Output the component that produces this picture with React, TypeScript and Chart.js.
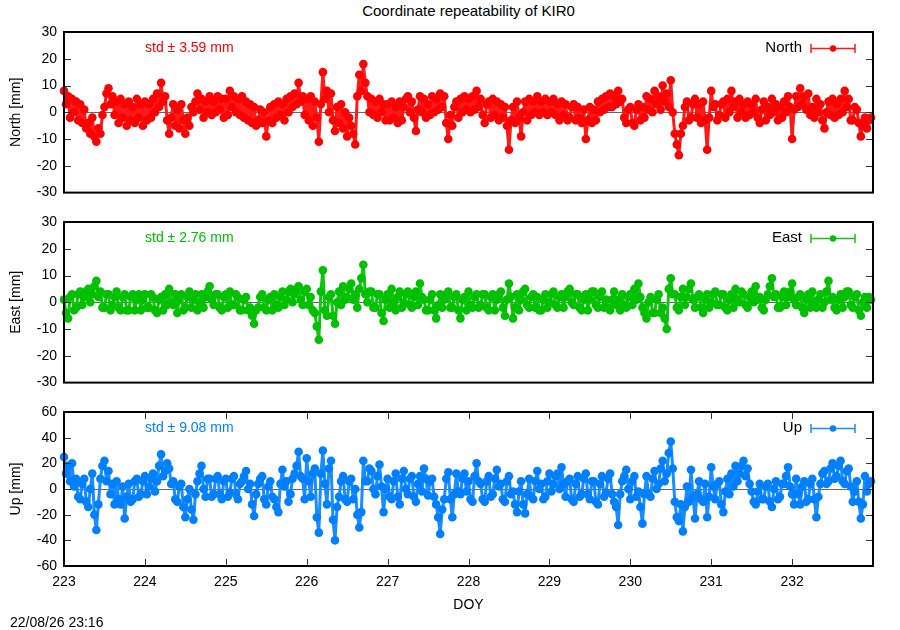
import React, { useEffect, useRef } from "react";
import { Chart, registerables } from "chart.js";

Chart.register(...registerables);

const FONT = '"Liberation Sans", Arial, Helvetica, sans-serif';

// Epochs: DOY 223.000 .. 232.975 every 0.025 day (one row = one day)
const DOY_START = 223;
const DOY_STEP = 0.025;

const X_TICKS = [223, 224, 225, 226, 227, 228, 229, 230, 231, 232];
const NE_TICKS = [-30, -20, -10, 0, 10, 20, 30];
const UP_TICKS = [-60, -40, -20, 0, 20, 40, 60];

const NORTH = [
  8, 3, 6, -2, 5, 0, 4, -3, 3, -4, 1, -6, -4, -8, -2, -9, -11, -6, -8, -1, 2, 7, 9, 3, 6, -1, 4, -4, 5, -2, 3, -5, 4, -3, 2, -4, 5, -2, 3, -5,
  4, -3, 3, -2, 5, 0, 7, 2, 11, 4, 6, -3, -8, -2, 3, -5, 1, -6, 3, -3, -8, -2, -5, 2, 0, 4, 7, 1, 5, -2, 4, 0, 6, -1, 4, 0, 6, 1, 5, -2,
  5, -1, 8, 2, 6, 0, 5, -1, 6, -2, 4, -3, 3, -4, 2, -5, -3, 1, -4, 0, -9, -3, 2, -4, 3, -2, 4, -1, 3, -3, 5, 0, 6, 2, 7, 3, 11, 4, 6, -1,
  5, -3, 6, -5, 4, -2, -11, 3, 15, 5, 8, 0, 7, -3, -7, 2, -4, 3, -6, 0, -9, -2, -5, -8, -12, 6, 14, 8, 18, 11, 6, 0, 5, -1, 4, -2, 5, 0, 3, -3,
  3, -3, 4, -2, 2, -4, 4, -3, 2, 5, 6, 0, 4, -2, -7, 1, 6, 0, 5, -2, 3, -1, 6, 0, 5, 1, 7, 2, 6, -4, -10, -1, -5, 2, 4, -2, 5, 0, 6, 1,
  5, 0, 6, 1, 8, 2, 5, -1, -4, 3, 4, -2, 5, -1, 4, -3, 3, -2, 2, -5, -14, -3, 2, -4, 4, -2, -9, 0, 4, -3, 5, -1, 4, 0, 6, -1, 4, 0, 5, -1,
  4, 0, 5, -1, 3, -3, 4, -1, 3, -3, -2, 2, 3, -3, 2, -2, -4, 1, -10, -3, 2, -4, 1, -3, 4, 0, 5, 1, 6, 2, 7, 2, 6, 3, 8, 4, 5, -2, -4, 1,
  2, -4, -5, 1, 3, -3, 2, -2, 6, 1, 5, 0, 8, 3, 6, 1, 10, 4, 7, 2, 12, 0, -8, -12, -16, -8, -5, 2, 4, -3, -2, 3, 5, -2, 3, -4, 4, -3, -14, -2,
  8, 2, 3, -3, -1, 3, 4, -2, 5, 0, 8, 2, 4, -2, 5, 0, 3, -2, 4, -1, 3, 0, 5, -2, -4, 1, 4, -3, 2, -1, 5, 0, 3, -3, 2, -2, 4, 0, 6, 2,
  -10, 1, 6, 2, 9, 3, 6, 1, 7, -1, 2, -2, 5, 0, 3, -3, -6, 0, 4, -1, 5, -2, 3, -1, 5, 0, 8, 2, 5, -3, -3, 2, 1, -4, -9, -5, -2, -6, -3, -2,
];

const EAST = [
  1, -4, -6, 2, 3, -3, -2, 3, 4, -1, 2, 4, 5, 0, 3, 6, 8, 2, 4, -2, -2, 3, 3, -3, -1, 2, 4, -2, -3, 2, 3, -3, -3, 2, 3, -3, 1, 3, -3, 1,
  3, -2, -2, 3, 2, -3, -4, 1, 2, -3, 3, -1, 5, 0, -1, 3, -4, 1, 3, -3, -2, 2, 4, -2, 1, 3, -3, 0, 3, -2, 2, 4, 6, 1, -1, 3, 3, -2, -3, 2,
  3, -2, 4, -1, -1, 3, 2, -3, -3, 1, 2, -3, -2, -5, -8, -3, -2, 2, 3, -2, -3, 1, 2, -3, 3, -1, -2, 2, 4, -1, 1, 4, 5, 0, 3, 5, 6, 1, -1, 4,
  5, -1, 2, -3, -4, -9, -14, 4, 12, -3, -5, 2, 3, -5, -8, 0, 4, -1, 6, 1, 2, 5, 7, 1, 3, -2, 5, 9, 14, 3, 0, 4, 4, -2, -2, 3, 3, -4, -7, 1,
  3, -2, 5, 0, -3, 2, 4, -2, 0, 3, 4, -1, -2, 2, 4, -1, 7, 2, 1, -3, -3, 1, 3, -3, -6, -1, 3, -2, 1, 3, 4, -2, -2, 2, 3, -3, -6, 1, 2, -3,
  4, -1, -2, 2, 3, -2, -1, 3, 3, -2, -3, 2, 3, -3, 1, 3, 4, -2, -5, 1, 7, 2, -6, -2, 3, -3, 1, 4, 5, -1, -2, 2, 3, -2, 2, -3, -3, 1, 3, -2,
  0, 3, 4, -1, -2, 2, 3, -2, 2, 4, 5, 0, -1, 3, 3, -2, -3, 1, 3, -3, 1, 4, 4, -1, -2, 2, 4, -2, 1, -2, -3, 1, 4, -1, 1, -3, 3, -1, -2, 2,
  3, -1, 5, 1, 7, 2, -2, -4, -6, 0, 2, -4, -4, 1, 3, -4, -2, -6, -10, 5, 9, 3, 3, -2, -3, 2, 5, -1, 2, 5, 7, 1, -2, 2, 3, -2, -4, 1, 3, -2,
  0, 3, 4, -1, -1, 3, 3, -2, -3, 1, 3, -2, 5, 1, 0, 4, 3, -1, -2, 2, 4, 0, 6, 1, 2, -2, -3, 1, 3, 6, 9, 2, 3, -2, -2, 2, 4, -1, 2, 4,
  7, 1, -1, 2, 3, -2, -4, 1, 3, -2, 4, 0, -2, 1, 3, -2, 0, 4, 8, 1, 2, -2, -3, 1, 3, -2, 2, 4, 4, -1, -2, 2, 3, -3, -5, 0, 2, -2, 2, 1,
];

const UP = [
  25, 12, 18, 6, 20, 2, 8, -6, -8, 4, 8, -10, -14, 0, 12, -20, -32, -12, 8, 18, 22, 6, 14, -4, 4, -12, 6, -8, -12, 2, -23, -6, 4, -10, -8, 6, 8, -6, -4, 6,
  10, -4, 2, 8, 12, -2, 6, 18, 27, 10, 14, 20, 16, 4, 6, -8, -10, 2, 4, -14, -22, -8, 0, -16, -24, -4, 6, 12, 18, 0, -6, 8, 8, -6, -4, 8, 10, -4, -8, 6,
  8, -6, -3, 8, 10, -4, -8, 4, 6, 10, 14, 0, 4, -12, -21, -4, 4, 8, 10, -8, -12, 2, 6, -6, -8, -14, -18, 4, 15, 2, 6, -10, -4, 8, 12, 18, 29, 10, 8, -8,
  24, 6, -6, 12, 16, -22, -34, 12, 30, 4, -12, 16, 22, -24, -40, -14, -6, 6, 10, -8, -10, 6, 8, -8, 0, -20, -30, -18, 22, 6, 6, 16, 14, 0, -4, 10, 19, 2, -18, 0,
  8, -6, -8, 6, 12, -6, -12, 8, 14, 0, -4, 8, 10, -6, -10, 4, 10, -2, 16, 8, -5, 6, 8, -6, -12, -22, -35, -16, -8, 8, 13, -8, -22, -4, 12, -2, -4, 8, 12, -2,
  6, -8, -10, 10, 20, 6, 4, -8, -10, 6, 10, -6, -4, 8, 15, 2, 4, -8, -10, 6, 10, -4, -2, -12, -18, -2, 6, -12, -19, -4, 8, -6, -8, 6, 14, 0, 4, -8, -6, 6,
  12, -2, 4, 10, 12, 0, 17, 4, -6, 6, 8, -8, -10, 4, 10, -6, -4, 8, 12, -4, -8, 6, 6, -10, -12, 4, 10, -6, -3, 8, 12, -4, -10, -14, -28, -4, 6, 10, 15, 0,
  -8, 6, 10, -6, -2, -14, -27, -4, 10, -4, -6, 8, 14, 0, 4, 16, 22, 6, 12, 28, 37, 16, -10, -22, -25, -12, -33, -14, 2, -10, 15, -6, -23, -4, 6, -8, -10, 4, -22, -6,
  17, 2, -8, 4, 6, -12, -18, -2, 8, -4, 12, 2, 18, 6, 12, 18, 22, 10, 16, 4, -2, -10, -12, -2, 4, -8, -8, 2, 4, -10, -14, 0, 6, -8, -6, 4, 4, 10, 17, 2,
  -4, -12, 8, -4, -12, 2, 6, -10, -8, 4, 8, -8, -22, -6, 4, 12, 14, 4, 6, 16, 20, 8, 10, 18, 22, 6, 4, 14, 16, 2, -10, -2, 6, -10, -23, -12, 10, -2, 4, 6,
];

type PanelCfg = {
  top: number;
  height: number;
  padTop: number;
  padBottom: number;
  values: number[];
  color: string;
  lineColor: string;
  yLabel: string;
  yTicks: number[];
  std: string;
  legend: string;
  showX: boolean;
};

const framePlugin = {
  id: "gpframe",
  beforeDatasetsDraw(chart: any) {
    const { ctx, chartArea: a, scales } = chart;
    const y0 = Math.round(scales.y.getPixelForValue(0)) + 0.5;
    ctx.save();
    ctx.strokeStyle = "rgba(0,0,0,0.6)";
    ctx.lineWidth = 1;
    ctx.beginPath();
    ctx.moveTo(a.left, y0);
    ctx.lineTo(a.right, y0);
    ctx.stroke();
    ctx.restore();
  },
  afterDatasetsDraw(chart: any, _args: any, opts: any) {
    const { ctx, chartArea: a, scales } = chart;
    ctx.save();
    ctx.lineWidth = 1;
    ctx.strokeStyle = "#333";
    const yt = opts.yTicks as number[];
    for (const v of yt) {
      if (v === yt[0] || v === yt[yt.length - 1]) continue;
      const py = Math.round(scales.y.getPixelForValue(v)) + 0.5;
      ctx.beginPath();
      ctx.moveTo(a.left, py);
      ctx.lineTo(a.left + 7, py);
      ctx.moveTo(a.right, py);
      ctx.lineTo(a.right - 7, py);
      ctx.stroke();
    }
    if (opts.showX) {
      for (const v of X_TICKS) {
        if (v === X_TICKS[0]) continue;
        const px = Math.round(scales.x.getPixelForValue(v)) + 0.5;
        ctx.beginPath();
        ctx.moveTo(px, a.bottom);
        ctx.lineTo(px, a.bottom - 7);
        ctx.moveTo(px, a.top);
        ctx.lineTo(px, a.top + 7);
        ctx.stroke();
      }
    }
    ctx.strokeStyle = "#000";
    ctx.lineWidth = 2;
    ctx.strokeRect(a.left, a.top, a.right - a.left, a.bottom - a.top);

    const ty = a.top + 16;
    ctx.font = `14px ${FONT}`;
    ctx.textBaseline = "middle";
    ctx.fillStyle = opts.color;
    ctx.textAlign = "left";
    ctx.fillText(opts.std, 145, ty);

    ctx.fillStyle = "#000";
    ctx.textAlign = "right";
    ctx.font = `15px ${FONT}`;
    ctx.fillText(opts.legend, 802, ty);
    ctx.strokeStyle = opts.lineColor;
    ctx.lineWidth = 1.5;
    ctx.beginPath();
    ctx.moveTo(811, ty + 0.5);
    ctx.lineTo(855, ty + 0.5);
    ctx.moveTo(811, ty - 4);
    ctx.lineTo(811, ty + 5);
    ctx.moveTo(855, ty - 4);
    ctx.lineTo(855, ty + 5);
    ctx.stroke();
    ctx.fillStyle = opts.color;
    ctx.beginPath();
    ctx.arc(833, ty + 0.5, 3.2, 0, Math.PI * 2);
    ctx.fill();
    ctx.restore();
  },
};

function Panel(p: PanelCfg) {
  const ref = useRef<HTMLCanvasElement | null>(null);
  useEffect(() => {
    if (!ref.current) return;
    const pts = p.values.map((y, i) => ({ x: DOY_START + i * DOY_STEP, y }));
    const yMin = p.yTicks[0];
    const yMax = p.yTicks[p.yTicks.length - 1];
    const chart = new Chart(ref.current, {
      type: "line",
      data: {
        datasets: [
          {
            data: pts,
            borderColor: p.lineColor,
            backgroundColor: p.color,
            borderWidth: 3,
            borderJoinStyle: "round",
            borderCapStyle: "round",
            pointStyle: "circle",
            pointRadius: 4.3,
            pointBorderWidth: 0,
            pointBackgroundColor: p.color,
            tension: 0,
            clip: false as any,
          },
        ],
      },
      options: {
        animation: false,
        responsive: false,
        devicePixelRatio: 1,
        layout: {
          autoPadding: false,
          padding: { top: p.padTop, bottom: p.padBottom, left: 0, right: 27 },
        },
        plugins: {
          legend: { display: false },
          tooltip: { enabled: false },
          gpframe: {
            color: p.color,
            lineColor: p.lineColor,
            std: p.std,
            legend: p.legend,
            yTicks: p.yTicks,
            showX: p.showX,
          },
        } as any,
        scales: {
          x: {
            type: "linear",
            min: 223,
            max: 233,
            display: p.showX,
            grid: { display: false, drawTicks: false },
            border: { display: false },
            afterBuildTicks: (s: any) => {
              s.ticks = X_TICKS.map((v) => ({ value: v }));
            },
            afterFit: (s: any) => {
              s.height = p.showX ? 50 : 0;
            },
            ticks: {
              padding: 8,
              color: "#000",
              font: { family: FONT, size: 14 },
              maxRotation: 0,
              autoSkip: false,
              callback: (v: any) => String(v),
            },
            title: {
              display: p.showX,
              text: "DOY",
              color: "#000",
              font: { family: FONT, size: 14 },
              padding: { top: 0, bottom: 2 },
            },
          },
          y: {
            type: "linear",
            min: yMin,
            max: yMax,
            grid: { display: false, drawTicks: false },
            border: { display: false },
            afterBuildTicks: (s: any) => {
              s.ticks = p.yTicks.map((v) => ({ value: v }));
            },
            afterFit: (s: any) => {
              s.width = 64;
            },
            ticks: {
              padding: 7,
              color: "#000",
              autoSkip: false,
              font: { family: FONT, size: 14 },
              callback: (v: any) => String(v),
            },
            title: {
              display: true,
              text: p.yLabel,
              color: "#000",
              font: { family: FONT, size: 14 },
              padding: { top: 8, bottom: 0 },
            },
          },
        },
      },
      plugins: [framePlugin as any],
    });
    return () => chart.destroy();
  }, []);
  return (
    <canvas
      ref={ref}
      width={900}
      height={p.height}
      style={{ position: "absolute", left: 0, top: p.top, width: 900, height: p.height }}
    />
  );
}

export default function App() {
  return (
    <div
      style={{
        position: "fixed",
        left: 0,
        top: 0,
        width: 900,
        height: 630,
        background: "#fff",
        fontFamily: FONT,
        color: "#000",
      }}
    >
      <div
        style={{
          position: "absolute",
          top: 2,
          left: 0,
          width: 937,
          textAlign: "center",
          fontSize: 15,
          lineHeight: "17px",
        }}
      >
        Coordinate repeatability of KIR0
      </div>
      <Panel
        top={0}
        height={208}
        padTop={32}
        padBottom={0}
        values={NORTH}
        color="#ff0000"
        lineColor="#ff1a1a"
        yLabel="North [mm]"
        yTicks={NE_TICKS}
        std="std ± 3.59 mm"
        legend="North"
        showX={false}
      />
      <Panel
        top={200}
        height={198}
        padTop={22}
        padBottom={0}
        values={EAST}
        color="#00c000"
        lineColor="#14c414"
        yLabel="East [mm]"
        yTicks={NE_TICKS}
        std="std ± 2.76 mm"
        legend="East"
        showX={false}
      />
      <Panel
        top={390}
        height={240}
        padTop={22}
        padBottom={14}
        values={UP}
        color="#0080ff"
        lineColor="#1a8cff"
        yLabel="Up [mm]"
        yTicks={UP_TICKS}
        std="std ± 9.08 mm"
        legend="Up"
        showX={true}
      />
      <div
        style={{
          position: "absolute",
          left: 10,
          top: 614,
          fontSize: 14,
          lineHeight: "16px",
          whiteSpace: "nowrap",
        }}
      >
        22/08/26 23:16
      </div>
    </div>
  );
}
